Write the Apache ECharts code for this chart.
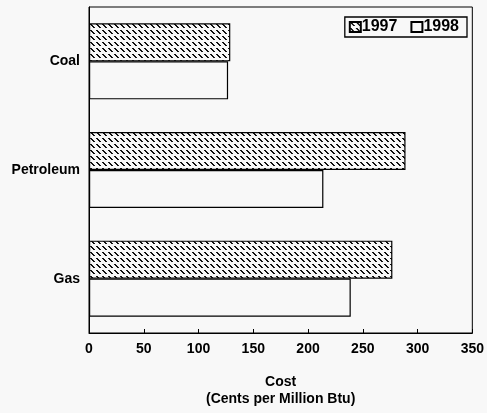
<!DOCTYPE html>
<html>
<head>
<meta charset="utf-8">
<script src="https://cdn.jsdelivr.net/npm/echarts@6/dist/echarts.min.js"></script>
<style>
html,body{margin:0;padding:0;background:#f8f8f8;}
#main{width:487px;height:413px;}
</style>
</head>
<body>
<div id="main"></div>
<script>
const categories = ['Coal', 'Petroleum', 'Gas'];
const values1997 = [129, 289, 277];
const values1998 = [127, 214, 239];
const seriesNames = ['1997', '1998'];
const axisTitle = 'Cost\n(Cents per Million Btu)';

function makeHatch() {
  const c = document.createElement('canvas');
  c.width = 6; c.height = 6;
  const g = c.getContext('2d');
  g.fillStyle = '#f8f8f8';
  g.fillRect(0, 0, 6, 6);
  g.fillStyle = '#111';
  for (let i = 0; i < 4; i++) g.fillRect(i, i, 2, 1);
  return c;
}

const font = 'Liberation Sans, Arial, sans-serif';
const txt = { fontSize: 14, color: '#000', fontFamily: font, fontWeight: 'bold' };
const chart = echarts.init(document.getElementById('main'));
chart.setOption({
  backgroundColor: '#f8f8f8',
  animation: false,
  textStyle: { fontFamily: font },
  grid: { left: 89, right: 14, top: 7, bottom: 76, show: true, borderColor: '#000', borderWidth: 1, containLabel: false },
  legend: {
    data: seriesNames,
    right: 20, top: 17,
    orient: 'horizontal',
    borderColor: '#000', borderWidth: 1.3,
    padding: [2, 8, 2, 4],
    itemGap: 13, itemWidth: 11, itemHeight: 10,
    icon: 'rect',
    textStyle: Object.assign({}, txt, { fontSize: 16, padding: [0, 0, 0, -4] })
  },
  xAxis: {
    type: 'value', min: 0, max: 350, interval: 50,
    axisLine: { show: true, lineStyle: { color: '#000' } },
    axisTick: { show: true, inside: true, length: 4, lineStyle: { color: '#000' } },
    splitLine: { show: false },
    axisLabel: Object.assign({ margin: 9 }, txt),
    name: axisTitle, nameLocation: 'middle', nameGap: 41,
    nameTextStyle: Object.assign({ lineHeight: 17 }, txt)
  },
  yAxis: {
    type: 'category', data: categories, inverse: true,
    axisLine: { show: true, lineStyle: { color: '#000' } },
    axisTick: { show: false },
    axisLabel: Object.assign({ margin: 9 }, txt)
  },
  series: [
    {
      name: seriesNames[0], type: 'bar', data: values1997,
      barGap: '0%', barCategoryGap: '30%',
      itemStyle: { color: { image: makeHatch(), repeat: 'repeat' }, borderColor: '#000', borderWidth: 1.2 }
    },
    {
      name: seriesNames[1], type: 'bar', data: values1998,
      barGap: '0%', barCategoryGap: '30%',
      itemStyle: { color: '#f8f8f8', borderColor: '#000', borderWidth: 1.2 }
    }
  ]
});
</script>
</body>
</html>
